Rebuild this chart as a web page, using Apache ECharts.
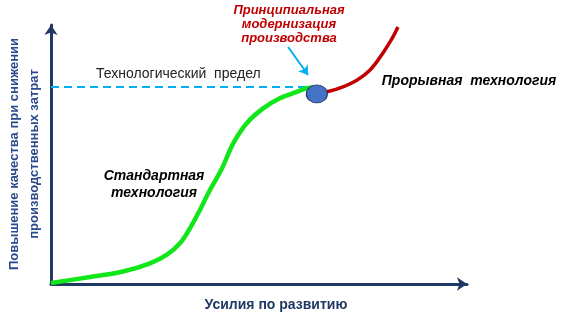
<!DOCTYPE html>
<html><head><meta charset="utf-8">
<script src="https://cdn.jsdelivr.net/npm/echarts@6/dist/echarts.min.js"></script>
<style>html,body{margin:0;padding:0;background:#fff}#c{width:568px;height:321px}</style>
</head><body><div id="c"></div>
<script>
// S-curve of the standard technology (x: development effort, y: quality gain), 0..100 scale
const standardX = [0, 9.4, 17.3, 23.8, 27.8, 31.0, 33.4, 35.8, 38.2, 41.0, 43.8, 47.0, 51.0, 55.0, 59.1, 61.5, 63.3];
const standardY = [0.4, 2.7, 4.8, 8.0, 11.2, 15.7, 21.5, 28.6, 36.3, 44.3, 54.3, 62.0, 67.8, 71.7, 74.2, 75.6, 76.0];
// breakthrough technology curve
const breakX = [63.9, 66.1, 69.5, 73.6, 76.7, 79.8, 82.2, 83.4];
const breakY = [73.4, 74.1, 75.7, 78.8, 82.6, 89.2, 95.4, 99.2];
// technological limit
const limitY = 76.1;
const limitX = [0, 61.3];
// modernization point
const pointXY = [63.9, 73.4];
// pointer arrow
const arrowFrom = [57.0, 91.5];
const arrowTo = [61.8, 80.7];

const labels = {
  yName: 'Повышение качества при снижении\nпроизводственных затрат',
  xName: 'Усилия по развитию',
  limit: 'Технологический  предел',
  modern: 'Принципиальная\nмодернизация\nпроизводства',
  breakthrough: 'Прорывная  технология',
  standard: 'Стандартная\nтехнология'
};

const chart = echarts.init(document.getElementById('c'), null, {renderer: 'canvas'});
const axisCol = '#1F3864';
const zip = (a, b) => a.map((v, i) => [v, b[i]]);
chart.setOption({
  animation: false,
  grid: {left: 51, right: 101, top: 25, bottom: 37},
  xAxis: {type: 'value', min: 0, max: 100, axisLabel: {show: false}, axisTick: {show: false}, splitLine: {show: false},
    axisLine: {symbol: ['none', 'arrow'], symbolSize: [10, 10], lineStyle: {color: axisCol, width: 3}}},
  yAxis: {type: 'value', min: 0, max: 100, axisLabel: {show: false}, axisTick: {show: false}, splitLine: {show: false},
    axisLine: {symbol: ['none', 'arrow'], symbolSize: [10, 10], lineStyle: {color: axisCol, width: 3}}},
  series: [
    {type: 'line', data: limitX.map(x => [x, limitY]), showSymbol: false, symbol: 'none',
      lineStyle: {color: '#00B0F0', width: 2, type: [8, 5]}},
    {type: 'line', data: zip(standardX, standardY), smooth: 0.35, symbol: 'none', clip: false,
      lineStyle: {color: '#11E619', width: 4.5}},
    {type: 'line', data: zip(breakX, breakY), smooth: 0.4, symbol: 'none', clip: false,
      lineStyle: {color: '#C00000', width: 3.5}},
    {type: 'lines', coordinateSystem: 'cartesian2d', data: [{coords: [arrowFrom, arrowTo]}],
      symbol: ['none', 'arrow'], symbolSize: 9, lineStyle: {color: '#00B0F0', width: 2, opacity: 1}},
    {type: 'scatter', data: [pointXY], symbol: 'circle', symbolSize: [21, 18], z: 10,
      itemStyle: {color: '#4472C4', borderColor: '#1F3864', borderWidth: 1, opacity: 1}}
  ],
  graphic: [
    {type: 'text', x: 24, y: 154, rotation: Math.PI / 2, style: {text: labels.yName, fill: '#2B4A8B',
      font: 'bold 13px "Liberation Sans", Arial, sans-serif', align: 'center', verticalAlign: 'middle', lineHeight: 20}},
    {type: 'text', x: 276, y: 305, style: {text: labels.xName, fill: axisCol,
      font: 'bold 14px "Liberation Sans", Arial, sans-serif', align: 'center', verticalAlign: 'middle'}},
    {type: 'text', x: 96, y: 74, style: {text: labels.limit, fill: '#222',
      font: '14px "Liberation Sans", Arial, sans-serif', align: 'left', verticalAlign: 'middle'}},
    {type: 'text', x: 289, y: 24, style: {text: labels.modern, fill: '#C00000',
      font: 'italic bold 13px "Liberation Sans", Arial, sans-serif', align: 'center', verticalAlign: 'middle', lineHeight: 14}},
    {type: 'text', x: 469, y: 81, style: {text: labels.breakthrough, fill: '#000',
      font: 'italic bold 14px "Liberation Sans", Arial, sans-serif', align: 'center', verticalAlign: 'middle'}},
    {type: 'text', x: 154, y: 185, style: {text: labels.standard, fill: '#000',
      font: 'italic bold 14px "Liberation Sans", Arial, sans-serif', align: 'center', verticalAlign: 'middle', lineHeight: 17}}
  ]
});
</script></body></html>
